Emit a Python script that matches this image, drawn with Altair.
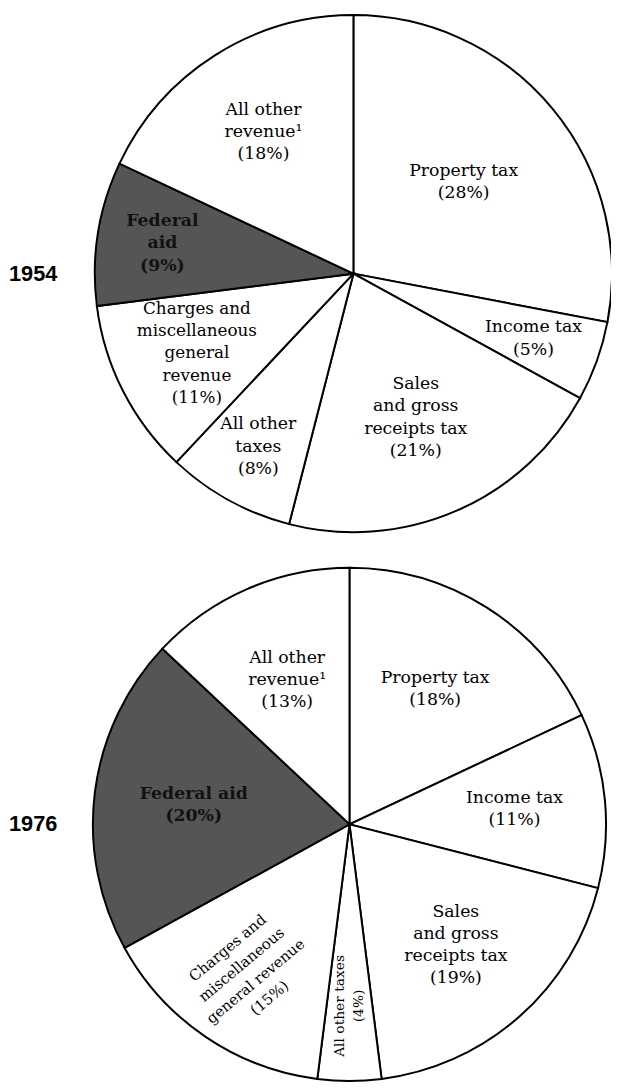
import altair as alt
import pandas as pd

years = ["1954", "1976"]
categories = [
    "Property tax",
    "Income tax",
    "Sales and gross receipts tax",
    "All other taxes",
    "Charges and miscellaneous general revenue",
    "Federal aid",
    "All other revenue",
]
values_1954 = [28, 5, 21, 8, 11, 9, 18]
values_1976 = [18, 11, 19, 4, 15, 20, 13]
labels_1954 = [
    "Property tax",
    "Income tax",
    "Sales|and gross|receipts tax",
    "All other|taxes",
    "Charges and|miscellaneous|general|revenue",
    "Federal|aid",
    "All other|revenue¹",
]
labels_1976 = [
    "Property tax",
    "Income tax",
    "Sales|and gross|receipts tax",
    "All other taxes",
    "Charges and|miscellaneous|general revenue",
    "Federal aid",
    "All other|revenue¹",
]

rows = []
for year, vals, labs in [("1954", values_1954, labels_1954), ("1976", values_1976, labels_1976)]:
    for i, (c, v, l) in enumerate(zip(categories, vals, labs)):
        rows.append({"year": year, "cat": c, "value": v, "idx": i,
                     "label": f"{l}|({v}%)"})
df = pd.DataFrame(rows)
ydf = pd.DataFrame({"year": years})

SERIF = "DejaVu Serif"
FED = "Federal aid"
CHG = "Charges and miscellaneous general revenue"
AOT = "All other taxes"
is_fed = alt.datum.cat == FED
THETA_SCALE = alt.Scale(domain=[0, 100])

# label distance from the pie centre (layout only), in the categories' order
LABEL_R = {
    "1954": [145, 194, 159, 200, 178, 196, 170],
    "1976": [162, 168, 163, 184, 182, 159, 159],
}

# label styles per year: (category, fontSize, lineHeight, weight, angle)
SPECIAL = {
    "1954": [(FED, 17.5, 22.5, "bold", 0), (CHG, 17, 22.5, "normal", 0)],
    "1976": [(FED, 17.5, 22.5, "bold", 0), (CHG, 15, 22, "normal", 320),
             (AOT, 14, 20, "normal", 270)],
}


def lookup_expr(cats, vals, default):
    expr = str(default)
    for c, v in reversed(list(zip(cats, vals))):
        expr = f"(datum.cat === '{c}' ? {v} : {expr})"
    return expr


def pie(year, cx, cy, R):
    base = alt.Chart(df).transform_filter(alt.datum.year == year)
    arc = base.mark_arc(outerRadius=R, stroke="black", strokeWidth=2).encode(
        theta=alt.Theta("value:Q", stack=True, scale=THETA_SCALE),
        order=alt.Order("idx:Q"),
        fill=alt.condition(is_fed, alt.value("#555555"), alt.value("white")),
        x=alt.value(cx), y=alt.value(cy),
    )
    tbase = base.transform_window(
        cum="sum(value)", sort=[alt.SortField("idx")], frame=[None, 0]
    ).transform_calculate(
        mid="datum.cum - datum.value / 2",
        rl=lookup_expr(categories, LABEL_R[year], 180),
        lines="split(datum.label, '|')",
    )

    def text_layer(data, fs, lh, fw, ang, color):
        # centre the multi-line block on its polar anchor
        a = f"({ang} * PI / 180)"
        half = f"((length(datum.lines) - 1) * {lh} / 2)"
        data = data.transform_calculate(
            xc=f"{cx} + {half} * sin({a})",
            yc=f"{cy} - {half} * cos({a})",
        )
        return data.mark_text(
            font=SERIF, fontSize=fs, lineHeight=lh, fontWeight=fw, angle=ang,
            align="center", baseline="middle", color=color,
        ).encode(
            theta=alt.Theta("mid:Q", stack=None, scale=THETA_SCALE),
            radius=alt.Radius("rl:Q", scale=None),
            text=alt.Text("lines:N"),
            x=alt.X("xc:Q", scale=None, axis=None),
            y=alt.Y("yc:Q", scale=None, axis=None),
        )

    special_cats = [s[0] for s in SPECIAL[year]]
    out = [arc, text_layer(
        tbase.transform_filter({"not": {"field": "cat", "oneOf": special_cats}}),
        17.5, 22.5, "normal", 0, "black")]
    for cat, fs, lh, fw, ang in SPECIAL[year]:
        out.append(text_layer(tbase.transform_filter(alt.datum.cat == cat),
                              fs, lh, fw, ang, "#111" if cat == FED else "black"))
    ylab = alt.Chart(ydf).transform_filter(alt.datum.year == year).mark_text(
        font="Liberation Sans", fontWeight="bold", fontSize=22, align="left",
        baseline="middle", color="black").encode(
        text="year:N", x=alt.value(1), y=alt.value(cy))
    out.append(ylab)
    return out


layers = pie("1954", 350, 262, 262) + pie("1976", 346, 820, 260)

chart = alt.layer(*layers).properties(
    width=611, height=1081, padding=0,
    autosize=alt.AutoSizeParams(type="none"),
).configure_view(stroke=None)

chart.save("out.html", embed_options={"renderer": "svg", "actions": False})
